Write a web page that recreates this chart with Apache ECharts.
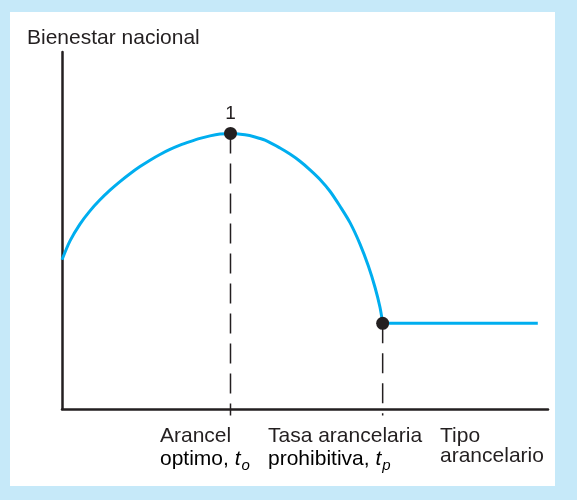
<!DOCTYPE html>
<html>
<head>
<meta charset="utf-8">
<script src="https://cdn.jsdelivr.net/npm/echarts@6/dist/echarts.min.js"></script>
<style>
html,body{margin:0;padding:0;background:#c6e9f9;}
#c{width:577px;height:500px;}
</style>
</head>
<body>
<div id="c"></div>
<script>
// Welfare curve (tariff rate 0..100, welfare 0..100)
var curveX = [0, 1.65, 3.70, 5.76, 7.82, 9.88, 11.93, 13.99, 16.05, 18.11, 20.16, 22.22, 24.28, 26.34, 28.40, 30.45, 32.51, 34.67,
              37.65, 39.70, 41.77, 44.86, 46.90, 48.97, 51.03, 53.09, 55.14, 57.20, 59.26, 61.32, 63.02, 64.40, 65.43, 65.98];
var curveY = [41.8, 47.1, 51.8, 55.5, 58.6, 61.3, 63.7, 65.9, 67.9, 69.7, 71.3, 72.7, 73.9, 74.9, 75.8, 76.5, 77.0, 77.2,
              76.8, 76.2, 75.3, 73.1, 71.4, 69.4, 67.0, 64.3, 61.0, 56.8, 52.2, 46.2, 40.1, 34.1, 28.5, 24.0];
var flatX = [65.98, 97.9];
var flatY = [24.0, 24.0];
var optimumX = 34.67, optimumY = 77.2;
var prohibX = 65.98, prohibY = 24.0;
var pointLabel = '1';
var yAxisTitle = 'Bienestar nacional';
var tickLabels = [
  ['Arancel', 'optimo, ', 't', 'o'],
  ['Tasa arancelaria', 'prohibitiva, ', 't', 'p']
];
var xAxisTitle = ['Tipo', 'arancelario'];

function zip(a, b) { return a.map(function (v, i) { return [v, b[i]]; }); }

var FONT = '"Liberation Sans", Arial, sans-serif';
var TXT = '#231f20';
var FS = 21;
var chart = echarts.init(document.getElementById('c'), null, {renderer: 'canvas'});

var sub = {
  n: {fontSize: FS, fontFamily: FONT, color: TXT},
  t: {fontSize: FS, fontFamily: FONT, color: TXT, fontStyle: 'italic'},
  s: {fontSize: 15, fontFamily: FONT, color: TXT, fontStyle: 'italic', padding: [13, 0, 0, 1]}
};

var option = {
  backgroundColor: '#c6e9f9',
  animation: false,
  grid: {left: 62, top: 52, right: 29, bottom: 91},
  xAxis: {
    type: 'value', min: 0, max: 100,
    axisLine: {show: true, onZero: false, lineStyle: {color: TXT, width: 2.5}},
    axisTick: {show: false}, axisLabel: {show: false}, splitLine: {show: false}
  },
  yAxis: {
    type: 'value', min: 0, max: 100,
    axisLine: {show: true, onZero: false, lineStyle: {color: TXT, width: 2.5}},
    axisTick: {show: false}, axisLabel: {show: false}, splitLine: {show: false}
  },
  graphic: [
    {type: 'rect', z: -10, shape: {x: 10, y: 12, width: 545, height: 474}, style: {fill: '#ffffff'}},
    {type: 'text', left: 27, top: 28, style: {text: yAxisTitle, font: FS + 'px ' + FONT, fill: TXT}},
    {type: 'text', left: 160, top: 426, style: {text: tickLabels[0][0], font: FS + 'px ' + FONT, fill: TXT}},
    {type: 'text', left: 160, top: 449, style: {text: '{n|' + tickLabels[0][1] + '}{t|' + tickLabels[0][2] + '}{s|' + tickLabels[0][3] + '}', rich: sub}},
    {type: 'text', left: 268, top: 426, style: {text: tickLabels[1][0], font: FS + 'px ' + FONT, fill: TXT}},
    {type: 'text', left: 268, top: 449, style: {text: '{n|' + tickLabels[1][1] + '}{t|' + tickLabels[1][2] + '}{s|' + tickLabels[1][3] + '}', rich: sub}},
    {type: 'text', left: 440, top: 426, style: {text: xAxisTitle[0], font: FS + 'px ' + FONT, fill: TXT}},
    {type: 'text', left: 440, top: 446, style: {text: xAxisTitle[1], font: FS + 'px ' + FONT, fill: TXT}}
  ],
  series: [
    {type: 'line', data: [[optimumX, optimumY], [optimumX, -1.8]], clip: false, symbol: 'none', z: 1,
     lineStyle: {color: '#231f20', width: 1.5, type: [20, 10]}},
    {type: 'line', data: [[prohibX, prohibY], [prohibX, -1.8]], clip: false, symbol: 'none', z: 1,
     lineStyle: {color: '#231f20', width: 1.5, type: [20, 10]}},
    {type: 'line', data: zip(curveX, curveY), smooth: 0.3, symbol: 'none', z: 2,
     lineStyle: {color: '#00aeef', width: 3}},
    {type: 'line', data: zip(flatX, flatY), symbol: 'none', z: 2,
     lineStyle: {color: '#00aeef', width: 3}},
    {type: 'scatter', z: 5, symbolSize: 13, itemStyle: {color: '#231f20', opacity: 1},
     data: [
       {value: [optimumX, optimumY], label: {show: true, formatter: pointLabel, position: 'top', distance: 4, fontSize: 19, fontFamily: FONT, color: TXT}},
       {value: [prohibX, prohibY]}
     ]}
  ]
};
chart.setOption(option);
</script>
</body>
</html>
